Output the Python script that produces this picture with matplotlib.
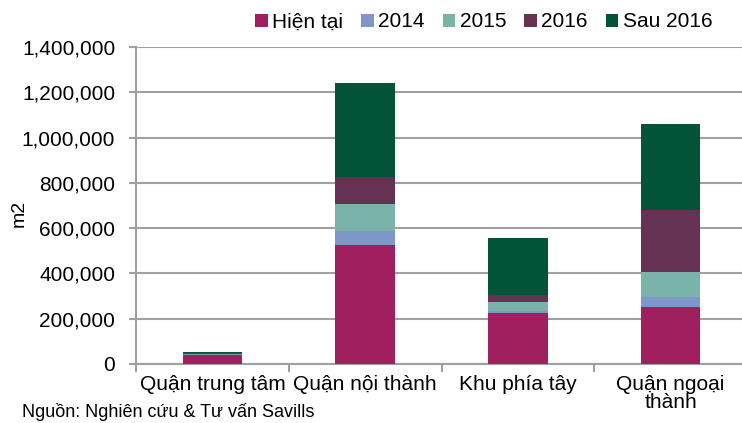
import matplotlib.pyplot as plt
import numpy as np

plt.rcParams['font.family'] = ['Liberation Sans', 'DejaVu Sans']

# Data
categories = ['Quận trung tâm', 'Quận nội thành', 'Khu phía tây', 'Quận ngoại\nthành']
series_names = ['Hiện tại', '2014', '2015', '2016', 'Sau 2016']
hien_tai = [41000, 525000, 226000, 253000]
y2014 = [1000, 63000, 8000, 43000]
y2015 = [2000, 118000, 41000, 111000]
y2016 = [3000, 118000, 28000, 273000]
sau2016 = [4000, 418000, 252000, 381000]
colors = ['#A01F5E', '#7F96CB', '#7AB3A8', '#663253', '#015438']

series = [hien_tai, y2014, y2015, y2016, sau2016]

fig = plt.figure(figsize=(7.42, 4.23), dpi=100)
ax = fig.add_axes([0.1833, 0.1395, 0.8235, 0.7494])

x = np.arange(len(categories))
bottom = np.zeros(len(categories))
for name, vals, c in zip(series_names, series, colors):
    ax.bar(x, vals, bottom=bottom, width=0.39, color=c, label=name,
           linewidth=0, zorder=3)
    bottom += np.array(vals)

grid_c = '#A0A0A0'
ax.set_ylim(0, 1400000)
ax.set_xlim(-0.5, len(categories) - 0.5)
ax.set_yticks(np.arange(0, 1400001, 200000))
ax.yaxis.set_major_formatter(plt.FuncFormatter(lambda v, p: f'{int(v):,}'))
ax.grid(axis='y', color=grid_c, linewidth=1.5, zorder=0)
ax.set_axisbelow(True)

for s in ['top', 'right']:
    ax.spines[s].set_visible(False)
for s in ['left', 'bottom']:
    ax.spines[s].set_color(grid_c)
    ax.spines[s].set_linewidth(1.5)

ax.set_xticks(x)
ax.set_xticklabels(categories, fontsize=15, linespacing=0.95)
ax.set_xticks(np.arange(-0.5, len(categories)), minor=True)
ax.tick_params(axis='x', which='major', length=0, pad=8)
ax.tick_params(axis='x', which='minor', length=6, width=1.5, color=grid_c)
ax.tick_params(axis='y', length=5, width=1.5, color=grid_c, labelsize=15, pad=10)

ax.set_ylabel('m2', fontsize=14)
ax.yaxis.set_label_coords(-0.178, 0.476)

fig.legend(loc='center', bbox_to_anchor=(0.652, 0.948), ncol=5, frameon=False,
           fontsize=15, handlelength=0.6, handleheight=0.6, handletextpad=0.2,
           columnspacing=0.88, borderaxespad=0)

fig.text(0.03, 0.005, 'Nguồn: Nghiên cứu & Tư vấn Savills', fontsize=13, va='bottom')

fig.savefig('out.png', dpi=100)
